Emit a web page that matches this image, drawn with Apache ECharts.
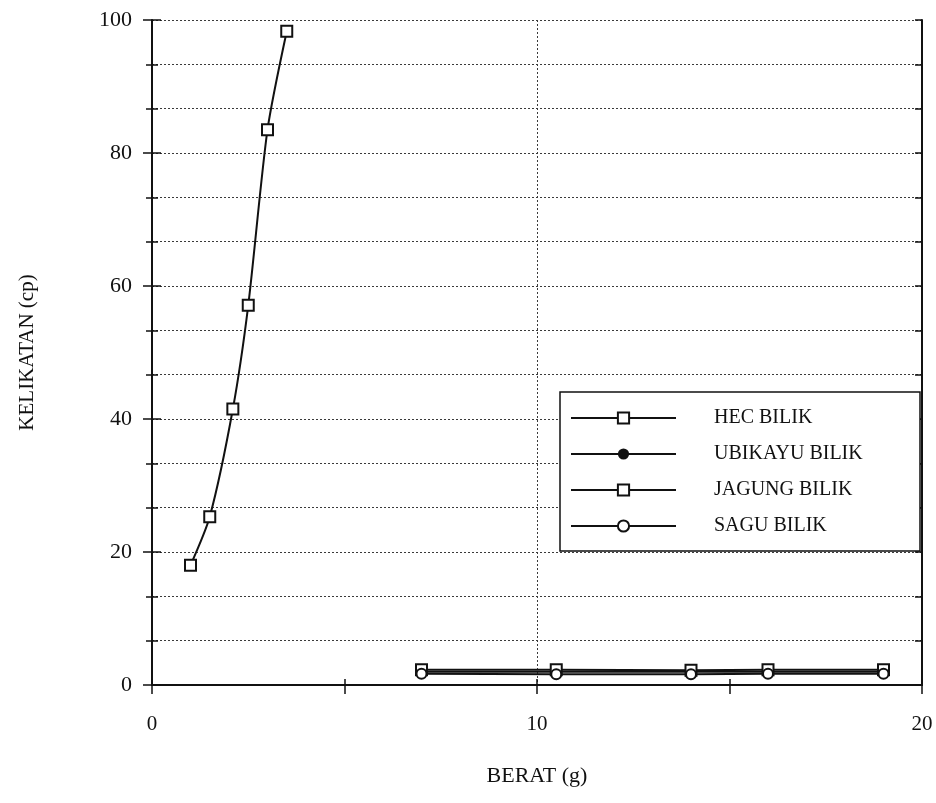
<!DOCTYPE html>
<html>
<head>
<meta charset="utf-8">
<script src="https://cdn.jsdelivr.net/npm/echarts@6/dist/echarts.min.js"></script>
<style>html,body{margin:0;padding:0;background:#fff}#c{width:936px;height:803px}</style>
</head>
<body>
<div id="c"></div>
<script>
// Data
const hecX = [1.0, 1.5, 2.1, 2.5, 3.0, 3.5];
const hecY = [18.0, 25.3, 41.5, 57.1, 83.5, 98.3];
const lowX = [7, 10.5, 14, 16, 19];
const ubikayuY = [2.0, 2.0, 2.0, 2.0, 2.0];
const jagungY = [2.3, 2.3, 2.2, 2.3, 2.3];
const saguY = [1.7, 1.6, 1.6, 1.7, 1.7];
const seriesNames = ['HEC BILIK', 'UBIKAYU BILIK', 'JAGUNG BILIK', 'SAGU BILIK'];
const xName = 'BERAT (g)';
const yName = 'KELIKATAN (cp)';

const zip = (xs, ys) => xs.map((x, i) => [x, ys[i]]);
const FONT = '"Liberation Serif", "DejaVu Serif", serif';
const ink = '#111';
const gridStyle = { color: '#3a3a3a', type: [2, 2], width: 1 };

const chart = echarts.init(document.getElementById('c'));
chart.setOption({
  animation: false,
  backgroundColor: '#fff',
  textStyle: { fontFamily: FONT, color: ink },
  grid: { left: 152, right: 14, top: 20, bottom: 118 },
  xAxis: [
    {
      type: 'value', min: 0, max: 20, interval: 10, position: 'bottom',
      name: xName, nameLocation: 'middle', nameGap: 80,
      nameTextStyle: { fontFamily: FONT, fontSize: 22, color: ink },
      axisLine: { show: true, lineStyle: { color: ink, width: 2 } },
      axisTick: { show: true, length: 9, lineStyle: { color: ink, width: 1.5 } },
      minorTick: { show: true, splitNumber: 2, length: 9, lineStyle: { color: ink, width: 1.5 } },
      axisLabel: { fontFamily: FONT, fontSize: 21, color: ink, margin: 29 },
      splitLine: { show: true, lineStyle: gridStyle }
    },
    {
      type: 'value', min: 0, max: 20, interval: 10, position: 'top',
      axisLine: { show: true, lineStyle: { color: ink, width: 2 } },
      axisTick: { show: true, length: 6, lineStyle: { color: ink, width: 1.5 } },
      minorTick: { show: true, splitNumber: 2, length: 6, lineStyle: { color: ink, width: 1.5 } },
      axisLabel: { show: false },
      splitLine: { show: false }
    }
  ],
  yAxis: [
    {
      type: 'value', min: 0, max: 100, interval: 20, position: 'left',
      name: yName, nameLocation: 'middle', nameGap: 114, nameRotate: 90,
      nameTextStyle: { fontFamily: FONT, fontSize: 21, color: ink },
      axisLine: { show: true, lineStyle: { color: ink, width: 2 } },
      axisTick: { show: true, length: 9, lineStyle: { color: ink, width: 1.5 } },
      minorTick: { show: true, splitNumber: 3, length: 6, lineStyle: { color: ink, width: 1.5 } },
      axisLabel: { fontFamily: FONT, fontSize: 22, color: ink, margin: 20 },
      splitLine: { show: true, lineStyle: gridStyle },
      minorSplitLine: { show: true, lineStyle: gridStyle }
    },
    {
      type: 'value', min: 0, max: 100, interval: 20, position: 'left',
      axisLine: { show: false },
      axisTick: { show: true, inside: true, length: 9, lineStyle: { color: ink, width: 1.5 } },
      minorTick: { show: true, splitNumber: 3, length: 6, lineStyle: { color: ink, width: 1.5 } },
      axisLabel: { show: false },
      splitLine: { show: false }
    },
    {
      type: 'value', min: 0, max: 100, interval: 20, position: 'right',
      axisLine: { show: true, lineStyle: { color: ink, width: 2 } },
      axisTick: { show: true, inside: true, length: 7, lineStyle: { color: ink, width: 1.5 } },
      minorTick: { show: true, splitNumber: 3, length: 7, lineStyle: { color: ink, width: 1.5 } },
      axisLabel: { show: false },
      splitLine: { show: false }
    }
  ],
  legend: {
    orient: 'vertical',
    left: 560, top: 392,
    padding: [15, 10, 14, 10],
    backgroundColor: '#fff',
    borderColor: ink, borderWidth: 1.5, borderRadius: 0,
    itemWidth: 105, itemHeight: 14, itemGap: 14,
    textStyle: { fontFamily: FONT, fontSize: 20, color: ink, lineHeight: 22, width: 196, padding: [0, 0, 0, 33] },
    data: seriesNames
  },
  series: [
    {
      name: seriesNames[0], type: 'line', smooth: 0.25,
      data: zip(hecX, hecY),
      symbol: 'emptyRect', symbolSize: 11,
      lineStyle: { color: ink, width: 2 },
      itemStyle: { color: ink, borderColor: ink, borderWidth: 2.5 },
      z: 5
    },
    {
      name: seriesNames[1], type: 'line',
      data: zip(lowX, ubikayuY),
      symbol: 'circle', symbolSize: 9,
      lineStyle: { color: ink, width: 2 },
      itemStyle: { color: ink, borderColor: ink }
    },
    {
      name: seriesNames[2], type: 'line',
      data: zip(lowX, jagungY),
      symbol: 'emptyRect', symbolSize: 11,
      lineStyle: { color: ink, width: 2 },
      itemStyle: { color: ink, borderColor: ink, borderWidth: 3.5 }
    },
    {
      name: seriesNames[3], type: 'line',
      data: zip(lowX, saguY),
      symbol: 'emptyCircle', symbolSize: 10,
      lineStyle: { color: ink, width: 2 },
      itemStyle: { color: ink, borderColor: ink, borderWidth: 3 },
      z: 4
    }
  ]
});
</script>
</body>
</html>
